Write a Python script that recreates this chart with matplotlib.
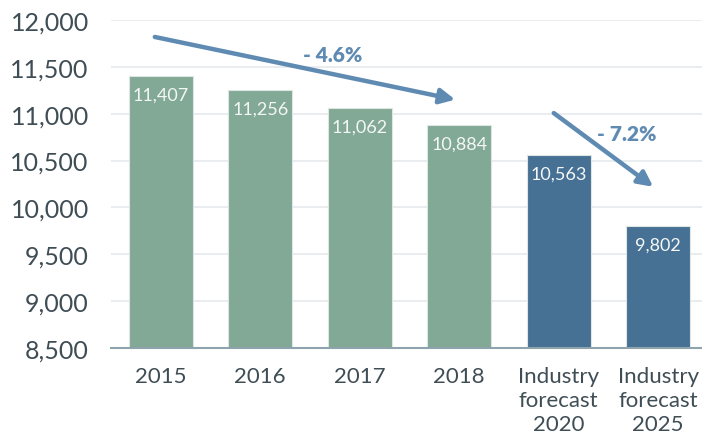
import matplotlib
matplotlib.use("Agg")
import matplotlib.pyplot as plt
from matplotlib.ticker import FuncFormatter

categories = ["2015", "2016", "2017", "2018", "Industry\nforecast\n2020", "Industry\nforecast\n2025"]
values = [11407, 11256, 11062, 10884, 10563, 9802]
is_forecast = [False, False, False, False, True, True]

# trend arrows: (x_start, y_start, x_end, y_end, label, label_x, label_y)
trend_arrows = [
    (-0.06, 11819, 2.96, 11150, "- 4.6%", 1.73, 11637),
    (3.95, 11007, 4.95, 10220, "- 7.2%", 4.68, 10794),
]

GREEN = "#82A896"
BLUE = "#467194"
ARROW = "#5F8BB3"
TEXT = "#3F4D55"

plt.rcParams["font.family"] = ["Lato", "DejaVu Sans"]

fig = plt.figure(figsize=(7.02, 4.39), dpi=100)
ax = fig.add_axes([111 / 702, (439 - 349) / 439, (702 - 111) / 702, (349 - 21) / 439])

xs = list(range(len(categories)))
colors = [BLUE if f else GREEN for f in is_forecast]
ax.bar(xs, [v - 8500 for v in values], bottom=8500, width=0.64, color=colors,
       edgecolor="#DDE6E2", linewidth=0.8, zorder=2)

for x, v in zip(xs, values):
    ax.annotate(f"{v:,}", (x, v), xytext=(0, -8), textcoords="offset points",
                ha="center", va="top", color="#F4F7F6", fontsize=13,
                fontweight="normal", zorder=3)

for x0, y0, x1, y1, lab, lx, ly in trend_arrows:
    ax.annotate("", xy=(x1, y1), xytext=(x0, y0),
                arrowprops=dict(arrowstyle="-|>,head_length=0.9,head_width=0.45",
                                color=ARROW, lw=3.2, shrinkA=0, shrinkB=0),
                zorder=4)
    ax.text(lx, ly, lab, ha="center", va="center", color=ARROW,
            fontsize=15, fontweight="heavy", zorder=4)

ax.set_ylim(8500, 12000)
ax.set_xlim(-0.5, 5.44)
ax.set_yticks(range(8500, 12001, 500))
ax.yaxis.set_major_formatter(FuncFormatter(lambda v, p: f"{int(v):,}"))
ax.set_xticks(xs)
ax.set_xticklabels(categories, linespacing=1.25)
ax.tick_params(axis="y", length=0, pad=16, labelsize=18, labelcolor=TEXT)
ax.tick_params(axis="x", length=0, pad=13, labelsize=16, labelcolor=TEXT)
ax.grid(axis="y", color="#E6EAEC", lw=1.2, zorder=0)
ax.set_axisbelow(True)
for s in ["top", "right", "left"]:
    ax.spines[s].set_visible(False)
ax.spines["bottom"].set_color("#8FA3AD")
ax.spines["bottom"].set_linewidth(1.5)
ax.spines["bottom"].set_zorder(3)

fig.savefig("out.png", dpi=100)
